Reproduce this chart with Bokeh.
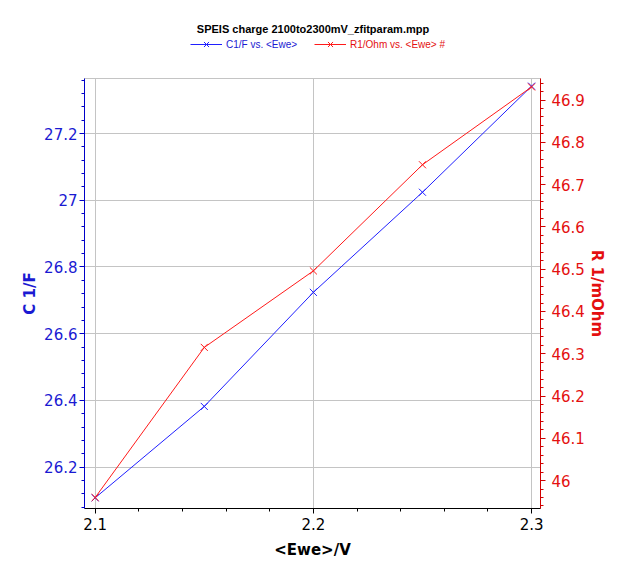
from bokeh.plotting import figure
from bokeh.layouts import column
from bokeh.models import (Range1d, LinearAxis, SingleIntervalTicker, NumeralTickFormatter,
                          Legend, LegendItem, Label)
from bokeh.embed import file_html
from bokeh.resources import INLINE

# ---- data ----
ewe = [2.1, 2.15, 2.2, 2.25, 2.3]
c1 = [26.108, 26.382, 26.724, 27.024, 27.342]
r1 = [45.960, 46.315, 46.496, 46.747, 46.931]
title_text = "SPEIS charge 2100to2300mV_zfitparam.mpp"
c1_label = "C1/F vs. <Ewe>"
r1_label = "R1/Ohm vs. <Ewe> #"
x_title = "<Ewe>/V"
y_left_title = "C 1/F"
y_right_title = "R 1/mOhm"

BLUE_LINE = "#2020ff"
BLUE_TXT = "#1a1ad2"
RED_LINE = "#ff1a1a"
RED_TXT = "#e41010"
GRID = "#c4c4c4"
TICK_FONT = "DejaVu Sans"

W = 625
HEAD_H = 62
FL, FR = 84, 540  # frame edges (the column aligns both frames horizontally)

# ---- header figure: title + legend ----
h = figure(width=W, height=HEAD_H, output_backend="svg", toolbar_location=None,
           x_range=Range1d(FL, FR), y_range=Range1d(HEAD_H, 0),
           x_axis_type=None, y_axis_type=None, min_border=0)
h.outline_line_color = None
h.grid.visible = False
h.add_layout(Label(x=W / 2, y=28, text=title_text, text_align="center",
                   text_baseline="middle", text_font="Liberation Sans",
                   text_font_style="bold", text_font_size="11px", text_color="black"))

# legend renderers: same data, lying outside this header's ranges (not visible here)
hbl = h.line(ewe, c1, line_color=BLUE_LINE, line_width=1)
hbs = h.scatter(ewe, c1, marker="x", size=10, line_color=BLUE_LINE, line_width=1)
hrl = h.line(ewe, r1, line_color=RED_LINE, line_width=1)
hrs = h.scatter(ewe, r1, marker="x", size=10, line_color=RED_LINE, line_width=1)


def make_legend(label, rends, color, x):
    return Legend(items=[LegendItem(label=label, renderers=rends)],
                  location=(x - FL, 9), orientation="horizontal",
                  border_line_alpha=0, background_fill_alpha=0,
                  label_text_font="Liberation Sans", label_text_font_size="10px",
                  label_text_color=color, glyph_width=32, glyph_height=18,
                  label_height=12, label_standoff=4, padding=0, margin=0, spacing=0)


h.add_layout(make_legend(c1_label, [hbl, hbs], BLUE_TXT, 190))
h.add_layout(make_legend(r1_label, [hrl, hrs], RED_TXT, 314))

# ---- main figure ----
p = figure(width=W, height=580 - HEAD_H, output_backend="svg", toolbar_location=None,
           x_range=Range1d(2.0951, 2.3041), y_range=Range1d(26.076, 27.365),
           min_border_left=FL, min_border_right=W - FR, min_border_top=78 - HEAD_H,
           min_border_bottom=72)
p.extra_y_ranges = {"r": Range1d(45.934, 46.951)}

p.outline_line_color = GRID
p.background_fill_color = "white"
p.border_fill_color = "white"

# x axis
xt = SingleIntervalTicker(interval=0.1, num_minor_ticks=5)
xa = p.xaxis[0]
xa.ticker = xt
p.xgrid[0].ticker = xt
xa.formatter = NumeralTickFormatter(format="0.[0]")
xa.axis_line_color = "black"
xa.major_tick_line_color = "black"
xa.minor_tick_line_color = "black"
xa.major_tick_in = 0
xa.major_tick_out = 5
xa.minor_tick_in = 0
xa.minor_tick_out = 3
xa.major_label_text_font = TICK_FONT
xa.major_label_text_font_size = "15px"
xa.major_label_text_color = "black"
xa.major_label_standoff = 4
xa.axis_label = x_title
xa.axis_label_text_font = "DejaVu Sans"
xa.axis_label_text_font_style = "bold"
xa.axis_label_text_font_size = "15px"
xa.axis_label_text_color = "black"
xa.axis_label_standoff = 8

# left y axis
yt = SingleIntervalTicker(interval=0.2, num_minor_ticks=5)
ya = p.yaxis[0]
ya.ticker = yt
p.ygrid[0].ticker = yt
ya.formatter = NumeralTickFormatter(format="0.[0]")
ya.axis_line_color = "#0000c8"
ya.major_tick_line_color = "#0000c8"
ya.minor_tick_line_color = "#0000c8"
ya.major_tick_in = 0
ya.major_tick_out = 5
ya.minor_tick_in = 0
ya.minor_tick_out = 3
ya.major_label_text_font = TICK_FONT
ya.major_label_text_font_size = "15px"
ya.major_label_text_color = BLUE_TXT
ya.major_label_standoff = 2
ya.axis_label = y_left_title
ya.axis_label_text_font = "DejaVu Sans"
ya.axis_label_text_font_style = "bold"
ya.axis_label_text_font_size = "15px"
ya.axis_label_text_color = BLUE_TXT
ya.axis_label_standoff = 2

p.xgrid.grid_line_color = GRID
p.ygrid.grid_line_color = GRID

# right y axis
rt = SingleIntervalTicker(interval=0.1, num_minor_ticks=5)
ra = LinearAxis(y_range_name="r", ticker=rt, formatter=NumeralTickFormatter(format="0.[0]"))
ra.axis_line_color = "#d00000"
ra.major_tick_line_color = "#d00000"
ra.minor_tick_line_color = "#d00000"
ra.major_tick_in = 0
ra.major_tick_out = 5
ra.minor_tick_in = 0
ra.minor_tick_out = 3
ra.major_label_text_font = TICK_FONT
ra.major_label_text_font_size = "15px"
ra.major_label_text_color = RED_TXT
ra.major_label_standoff = 6
ra.axis_label = y_right_title
ra.axis_label_text_font = "DejaVu Sans"
ra.axis_label_text_font_style = "bold"
ra.axis_label_text_font_size = "15px"
ra.axis_label_text_color = RED_TXT
ra.axis_label_standoff = 0
p.add_layout(ra, "right")

# glyphs
p.line(ewe, c1, line_color=BLUE_LINE, line_width=1)
p.scatter(ewe, c1, marker="x", size=10, line_color=BLUE_LINE, line_width=1)
p.line(ewe, r1, line_color=RED_LINE, line_width=1, y_range_name="r")
p.scatter(ewe, r1, marker="x", size=10, line_color=RED_LINE, line_width=1, y_range_name="r")

layout = column(h, p, spacing=0)
open("out.html", "w").write(file_html(layout, INLINE))
